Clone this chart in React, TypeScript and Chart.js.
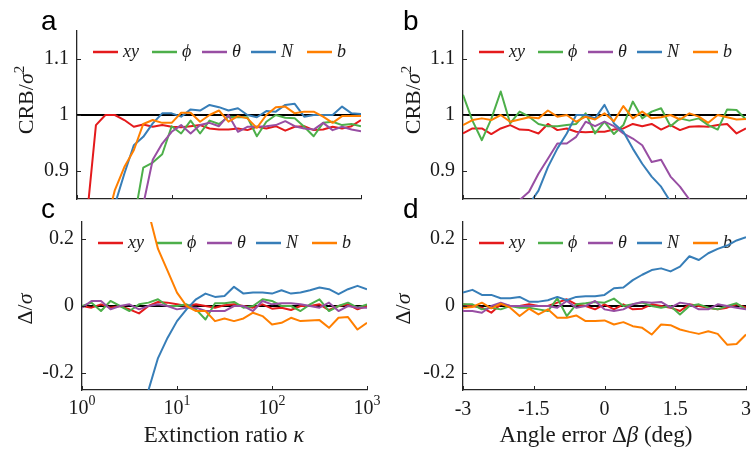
import React, { useEffect, useRef } from 'react';
import { Chart, registerables } from 'chart.js';
Chart.register(...registerables);

const W = 751;
const H = 449;

// ---------- data ----------
const KAPPA = [1, 1.259, 1.585, 1.995, 2.512, 3.162, 3.981, 5.012, 6.31, 7.943, 10, 12.59, 15.85, 19.95, 25.12, 31.62, 39.81, 50.12, 63.1, 79.43, 100, 125.9, 158.5, 199.5, 251.2, 316.2, 398.1, 501.2, 631, 794.3, 1000];
const ANGLE = [-3, -2.8, -2.6, -2.4, -2.2, -2, -1.8, -1.6, -1.4, -1.2, -1, -0.8, -0.6, -0.4, -0.2, 0, 0.2, 0.4, 0.6, 0.8, 1, 1.2, 1.4, 1.6, 1.8, 2, 2.2, 2.4, 2.6, 2.8, 3];

const SERIES_LABELS = ['xy', 'ϕ', 'θ', 'N', 'b'];
const SERIES_COLORS = ['#e41a1c', '#4daf4a', '#984ea3', '#377eb8', '#ff7f00'];

// panel a: CRB/sigma^2 vs extinction ratio
const A_XY = [0.6, 0.81, 0.982, 1.0, 1.0, 0.991, 0.979, 0.983, 0.979, 0.982, 0.979, 0.978, 0.98, 0.982, 0.976, 0.974, 0.974, 0.976, 0.973, 0.979, 0.976, 0.98, 0.972, 0.979, 0.98, 0.973, 0.974, 0.979, 0.976, 0.98, 0.991];
const A_PHI = [0.5, 0.6, 0.65, 0.7, 0.74, 0.78, 0.81, 0.906, 0.915, 0.93, 0.98, 0.967, 0.99, 0.967, 0.99, 0.984, 0.997, 0.996, 0.996, 0.962, 0.988, 1.0, 0.995, 0.994, 0.979, 0.962, 0.986, 0.988, 0.982, 0.984, 0.98];
const A_THETA = [0.5, 0.55, 0.6, 0.65, 0.7, 0.75, 0.8, 0.84, 0.92, 0.949, 0.97, 0.982, 0.967, 0.982, 0.986, 0.98, 1.0, 0.97, 0.979, 0.979, 0.98, 0.982, 0.989, 0.98, 0.976, 0.974, 0.986, 0.973, 0.979, 0.974, 0.971];
const A_N = [0.5, 0.6, 0.7, 0.78, 0.84, 0.895, 0.946, 0.961, 0.985, 1.003, 1.003, 0.997, 1.01, 1.008, 1.018, 1.014, 1.008, 1.012, 1.0, 0.996, 1.007, 1.006, 1.018, 1.02, 0.997, 1.0, 1.0, 1.0, 1.015, 1.003, 1.002];
const A_B = [0.5, 0.6, 0.7, 0.8, 0.866, 0.907, 0.937, 0.984, 0.991, 0.986, 0.986, 1.004, 1.004, 0.988, 1.0, 1.008, 0.988, 0.998, 0.994, 0.977, 1.0, 1.014, 1.015, 1.003, 1.006, 1.006, 0.997, 0.986, 0.998, 0.998, 0.998];

// panel b: CRB/sigma^2 vs angle error
const B_XY = [0.967, 0.976, 0.976, 0.966, 0.976, 0.982, 0.974, 0.973, 0.967, 0.984, 0.973, 0.976, 0.97, 0.969, 0.97, 0.97, 0.974, 0.976, 0.984, 0.98, 0.984, 0.974, 0.982, 0.973, 0.979, 0.98, 0.979, 0.982, 0.984, 0.967, 0.976];
const B_PHI = [1.036, 0.99, 0.955, 0.993, 1.042, 0.985, 1.006, 0.997, 0.984, 0.98, 0.98, 0.982, 0.984, 1.003, 0.967, 0.988, 0.966, 0.982, 1.024, 0.994, 1.006, 1.012, 0.98, 0.994, 0.99, 0.994, 0.982, 0.974, 1.01, 1.009, 0.992];
const B_THETA = [0.7, 0.74, 0.77, 0.8, 0.82, 0.83, 0.848, 0.863, 0.895, 0.922, 0.949, 0.949, 0.961, 0.988, 0.98, 0.988, 0.98, 0.967, 0.958, 0.946, 0.916, 0.92, 0.89, 0.872, 0.849, 0.82, 0.8, 0.78, 0.76, 0.74, 0.72];
const B_N = [0.6, 0.64, 0.68, 0.72, 0.75, 0.78, 0.8, 0.84, 0.865, 0.907, 0.94, 0.967, 1.0, 1.0, 0.994, 1.018, 0.985, 0.97, 0.94, 0.913, 0.89, 0.872, 0.845, 0.8, 0.77, 0.74, 0.72, 0.7, 0.68, 0.66, 0.64];
const B_B = [0.982, 0.991, 0.994, 0.991, 1.0, 0.988, 0.992, 0.996, 0.994, 1.008, 0.997, 1.0, 0.988, 0.997, 0.992, 1.003, 0.989, 1.016, 0.994, 1.006, 0.994, 0.996, 1.0, 0.992, 1.003, 0.997, 0.986, 1.0, 0.996, 0.992, 0.993];

// panel c: Delta/sigma vs extinction ratio
const C_XY = [0, -0.005, 0.005, -0.005, 0.0, -0.01, -0.022, 0, 0.012, 0.01, 0.005, 0, 0.005, 0, -0.005, 0.002, 0.005, 0, -0.005, 0.005, -0.008, -0.005, -0.012, 0, 0, 0.005, -0.012, 0, 0.005, -0.01, 0];
const C_PHI = [0, 0.01, -0.015, 0.015, 0, -0.015, 0.005, 0.01, 0.02, 0.0, 0.0, 0.005, -0.01, -0.04, 0.008, 0.008, 0.012, -0.005, 0.0, 0.02, 0.015, 0.0, 0.0, -0.015, 0.005, 0.02, -0.015, 0.0, 0.01, -0.005, 0.005];
const C_THETA = [-0.005, 0.015, 0.015, -0.01, 0, 0.005, -0.01, 0.0, 0.005, 0.0, -0.01, -0.005, -0.005, -0.015, -0.015, -0.015, 0, 0.0, -0.015, 0.015, 0.005, 0.008, 0.008, 0.005, 0.0, -0.005, 0.01, -0.015, 0.0, -0.005, -0.005];
const C_N = [-1.0, -0.85, -0.72, -0.6, -0.5, -0.42, -0.33, -0.25, -0.155, -0.095, -0.045, -0.01, 0.02, 0.037, 0.027, 0.03, 0.057, 0.037, 0.04, 0.04, 0.037, 0.047, 0.037, 0.04, 0.047, 0.055, 0.05, 0.035, 0.05, 0.06, 0.05];
const C_B = [2.0, 1.6, 1.3, 1.0, 0.8, 0.6, 0.42, 0.28, 0.17, 0.105, 0.04, 0.0, -0.015, -0.015, -0.045, -0.037, -0.045, -0.037, -0.02, -0.03, -0.055, -0.05, -0.035, -0.045, -0.043, -0.042, -0.065, -0.035, -0.033, -0.07, -0.05];

// panel d: Delta/sigma vs angle error
const D_XY = [0.005, 0.0, -0.005, -0.02, 0.005, 0, 0, 0.005, 0.0, 0.0, 0.01, 0.02, 0.005, 0.0, -0.01, 0.005, -0.01, 0.005, -0.01, -0.008, 0.005, 0.0, -0.005, -0.015, 0.005, 0.0, -0.005, -0.01, -0.005, 0.005, -0.005];
const D_PHI = [0.005, 0.005, -0.01, -0.005, -0.01, 0.0, -0.005, -0.005, -0.01, -0.015, 0.023, -0.03, 0.005, 0.008, 0.012, 0.01, 0.022, 0.0, 0.005, 0.01, 0.0, -0.005, 0.0, -0.025, 0.0, 0.005, -0.005, -0.01, 0.0, 0.008, -0.01];
const D_THETA = [-0.015, -0.015, -0.02, 0.0, 0.01, 0.0, 0.0, 0.0, 0.0, 0.0, -0.005, 0.015, -0.005, 0.0, 0.015, -0.01, -0.015, -0.01, 0.005, 0.012, 0.01, 0.012, -0.005, 0.01, 0.005, -0.01, -0.01, 0.005, 0.0, -0.005, -0.01];
const D_N = [0.04, 0.048, 0.033, 0.033, 0.023, 0.023, 0.027, 0.013, 0.013, 0.017, 0.027, 0.017, 0.027, 0.029, 0.029, 0.033, 0.053, 0.055, 0.077, 0.093, 0.107, 0.112, 0.103, 0.117, 0.148, 0.137, 0.157, 0.17, 0.18, 0.195, 0.205];
const D_B = [-0.005, -0.003, 0.01, -0.007, 0.007, -0.005, -0.03, -0.008, -0.025, -0.01, -0.035, -0.035, -0.028, -0.045, -0.045, -0.043, -0.055, -0.048, -0.06, -0.065, -0.085, -0.055, -0.057, -0.07, -0.077, -0.083, -0.075, -0.083, -0.115, -0.113, -0.085];

// ticks
const KAPPA_TICKS = [1, 10, 100, 1000];
const KAPPA_TICK_EXP = ['0', '1', '2', '3'];
const ANGLE_TICKS = [-3, -1.5, 0, 1.5, 3];
const ANGLE_TICK_LABELS = ['-3', '-1.5', '0', '1.5', '3'];
const CRB_TICKS = [0.9, 1, 1.1];
const CRB_TICK_LABELS = ['0.9', '1', '1.1'];
const DELTA_TICKS = [-0.2, 0, 0.2];
const DELTA_TICK_LABELS = ['-0.2', '0', '0.2'];

// ---------- styles ----------
const SERIF = '"Liberation Serif", "Times New Roman", serif';
const R = (s: number) => `${s}px ${SERIF}`;
const I = (s: number) => `italic ${s}px ${SERIF}`;
const TEXT = '#1a1a1a';
const AXIS = '#262626';
const LEG_LINE_X = [16, 75, 125, 174, 230];
const LEG_TEXT_X = [46, 105, 155, 204, 260];
const Y_AXIS_W = 60;
const X_AXIS_H = 40;

type Run = { t: string; f: string; dy?: number };

function drawRuns(ctx: CanvasRenderingContext2D, runs: Run[], x: number, y: number, rotate: boolean) {
  ctx.save();
  let total = 0;
  const ws = runs.map((r) => {
    ctx.font = r.f;
    const w = ctx.measureText(r.t).width;
    total += w;
    return w;
  });
  ctx.translate(x, y);
  if (rotate) ctx.rotate(-Math.PI / 2);
  ctx.textAlign = 'left';
  ctx.textBaseline = 'alphabetic';
  ctx.fillStyle = TEXT;
  let cx = -total / 2;
  runs.forEach((r, i) => {
    ctx.font = r.f;
    ctx.fillText(r.t, cx, r.dy || 0);
    cx += ws[i];
  });
  ctx.restore();
}

type Panel = {
  letter: string;
  letterPos: [number, number];
  area: { l: number; t: number; r: number; b: number };
  log: boolean;
  xs: number[];
  series: number[][];
  yMin: number;
  yMax: number;
  yTicks: number[];
  yLabels: string[];
  ref: number;
  xTicks: number[];
  xLabels: string[] | null;
  logLabels: boolean;
  yTitle: Run[];
  yTitlePos: [number, number];
  xTitle: Run[] | null;
  xTitlePos: [number, number];
};

const CRB_TITLE: Run[] = [
  { t: 'CRB/', f: R(22) },
  { t: 'σ', f: I(22) },
  { t: '2', f: R(15), dy: -9 },
];
const DELTA_TITLE: Run[] = [
  { t: 'Δ/', f: R(22) },
  { t: 'σ', f: I(22) },
];

const PANELS: Panel[] = [
  {
    letter: 'a', letterPos: [41, 30],
    area: { l: 77, t: 31, r: 361, b: 199 },
    log: true, xs: KAPPA, series: [A_XY, A_PHI, A_THETA, A_N, A_B],
    yMin: 0.85, yMax: 1.15, yTicks: CRB_TICKS, yLabels: CRB_TICK_LABELS, ref: 1,
    xTicks: KAPPA_TICKS, xLabels: null, logLabels: false,
    yTitle: CRB_TITLE, yTitlePos: [33, 100], xTitle: null, xTitlePos: [0, 0],
  },
  {
    letter: 'b', letterPos: [403, 30],
    area: { l: 463, t: 31, r: 746, b: 199 },
    log: false, xs: ANGLE, series: [B_XY, B_PHI, B_THETA, B_N, B_B],
    yMin: 0.85, yMax: 1.15, yTicks: CRB_TICKS, yLabels: CRB_TICK_LABELS, ref: 1,
    xTicks: ANGLE_TICKS, xLabels: null, logLabels: false,
    yTitle: CRB_TITLE, yTitlePos: [420, 100], xTitle: null, xTitlePos: [0, 0],
  },
  {
    letter: 'c', letterPos: [41, 218],
    area: { l: 82, t: 222, r: 367, b: 390 },
    log: true, xs: KAPPA, series: [C_XY, C_PHI, C_THETA, C_N, C_B],
    yMin: -0.25, yMax: 0.25, yTicks: DELTA_TICKS, yLabels: DELTA_TICK_LABELS, ref: 0,
    xTicks: KAPPA_TICKS, xLabels: null, logLabels: true,
    yTitle: DELTA_TITLE, yTitlePos: [32, 309],
    xTitle: [{ t: 'Extinction ratio ', f: R(23) }, { t: 'κ', f: I(23) }], xTitlePos: [224, 442],
  },
  {
    letter: 'd', letterPos: [403, 218],
    area: { l: 463, t: 222, r: 746, b: 390 },
    log: false, xs: ANGLE, series: [D_XY, D_PHI, D_THETA, D_N, D_B],
    yMin: -0.25, yMax: 0.25, yTicks: DELTA_TICKS, yLabels: DELTA_TICK_LABELS, ref: 0,
    xTicks: ANGLE_TICKS, xLabels: ANGLE_TICK_LABELS, logLabels: false,
    yTitle: DELTA_TITLE, yTitlePos: [410, 309],
    xTitle: [{ t: 'Angle error Δ', f: R(23) }, { t: 'β', f: I(23) }, { t: ' (deg)', f: R(23) }], xTitlePos: [596, 442],
  },
];

function makeDecor(p: Panel) {
  return {
    id: 'decor' + p.letter,
    beforeDatasetsDraw(chart: any) {
      const ctx: CanvasRenderingContext2D = chart.ctx;
      const a = chart.chartArea;
      const ly = a.top + 21;
      ctx.save();
      SERIES_LABELS.forEach((lab, i) => {
        ctx.strokeStyle = SERIES_COLORS[i];
        ctx.lineWidth = 2.5;
        ctx.beginPath();
        ctx.moveTo(a.left + LEG_LINE_X[i], ly);
        ctx.lineTo(a.left + LEG_LINE_X[i] + 25, ly);
        ctx.stroke();
        ctx.fillStyle = TEXT;
        ctx.font = I(18);
        ctx.textAlign = 'left';
        ctx.textBaseline = 'alphabetic';
        ctx.fillText(lab, a.left + LEG_TEXT_X[i], ly + 5);
      });
      ctx.restore();
    },
    afterDraw(chart: any) {
      const ctx: CanvasRenderingContext2D = chart.ctx;
      const a = chart.chartArea;
      const xs = chart.scales.x;
      const ys = chart.scales.y;
      ctx.save();
      ctx.strokeStyle = AXIS;
      ctx.lineWidth = 1;
      ctx.beginPath();
      p.xTicks.forEach((v) => {
        const px = Math.round(xs.getPixelForValue(v)) + 0.5;
        ctx.moveTo(px, a.bottom);
        ctx.lineTo(px, a.bottom - 4);
      });
      p.yTicks.forEach((v) => {
        const py = Math.round(ys.getPixelForValue(v)) + 0.5;
        ctx.moveTo(a.left, py);
        ctx.lineTo(a.left + 4, py);
      });
      ctx.stroke();

      if (p.logLabels) {
        ctx.fillStyle = TEXT;
        ctx.textBaseline = 'alphabetic';
        ctx.textAlign = 'left';
        p.xTicks.forEach((v, i) => {
          const px = xs.getPixelForValue(v);
          ctx.font = R(20);
          const w1 = ctx.measureText('10').width;
          ctx.font = R(14);
          const w2 = ctx.measureText(KAPPA_TICK_EXP[i]).width;
          const x0 = px - (w1 + w2) / 2;
          ctx.font = R(20);
          ctx.fillText('10', x0, 414);
          ctx.font = R(14);
          ctx.fillText(KAPPA_TICK_EXP[i], x0 + w1, 405);
        });
      }

      ctx.fillStyle = '#000';
      ctx.font = '28px "Liberation Sans", Arial, sans-serif';
      ctx.textAlign = 'left';
      ctx.textBaseline = 'alphabetic';
      ctx.fillText(p.letter, p.letterPos[0], p.letterPos[1]);
      ctx.restore();

      drawRuns(ctx, p.yTitle, p.yTitlePos[0], p.yTitlePos[1], true);
      if (p.xTitle) drawRuns(ctx, p.xTitle, p.xTitlePos[0], p.xTitlePos[1], false);
    },
  };
}

function PanelChart({ p }: { p: Panel }) {
  const ref = useRef<HTMLCanvasElement | null>(null);
  useEffect(() => {
    if (!ref.current) return;
    const xMin = p.xs[0];
    const xMax = p.xs[p.xs.length - 1];
    const datasets: any[] = [
      {
        label: 'ref',
        data: [{ x: xMin, y: p.ref }, { x: xMax, y: p.ref }],
        borderColor: '#000',
        borderWidth: 2.2,
        pointRadius: 0,
        tension: 0,
        order: 10,
      },
    ];
    p.series.forEach((arr, i) => {
      datasets.push({
        label: SERIES_LABELS[i],
        data: p.xs.map((x, j) => ({ x, y: arr[j] })),
        borderColor: SERIES_COLORS[i],
        borderWidth: 2,
        pointRadius: 0,
        tension: 0,
        borderJoinStyle: 'round',
        order: 5 - i,
      });
    });
    const chart = new Chart(ref.current, {
      type: 'line',
      data: { datasets },
      options: {
        animation: false,
        responsive: false,
        maintainAspectRatio: false,
        events: [],
        layout: {
          padding: {
            left: p.area.l - Y_AXIS_W,
            top: p.area.t,
            right: W - p.area.r,
            bottom: H - p.area.b - X_AXIS_H,
          },
        },
        plugins: { legend: { display: false }, tooltip: { enabled: false } },
        scales: {
          x: {
            type: p.log ? 'logarithmic' : 'linear',
            min: xMin,
            max: xMax,
            position: 'bottom',
            grid: { display: false, drawTicks: false },
            border: { display: true, color: AXIS, width: 1.3 },
            ticks: {
              display: !!p.xLabels,
              font: { family: SERIF, size: 20 },
              color: TEXT,
              padding: 8,
              maxRotation: 0,
              autoSkip: false,
              callback: (_v: any, i: number) => (p.xLabels ? p.xLabels[i] : ''),
            },
            afterBuildTicks: (s: any) => {
              s.ticks = p.xTicks.map((v) => ({ value: v }));
            },
            afterFit: (s: any) => {
              s.height = X_AXIS_H;
              s.paddingLeft = 0;
              s.paddingRight = 0;
            },
          },
          y: {
            type: 'linear',
            min: p.yMin,
            max: p.yMax,
            position: 'left',
            grid: { display: false, drawTicks: false },
            border: { display: true, color: AXIS, width: 1.3 },
            ticks: {
              font: { family: SERIF, size: 20 },
              color: TEXT,
              padding: 8,
              autoSkip: false,
              callback: (_v: any, i: number) => p.yLabels[i],
            },
            afterBuildTicks: (s: any) => {
              s.ticks = p.yTicks.map((v) => ({ value: v }));
            },
            afterFit: (s: any) => {
              s.width = Y_AXIS_W;
              s.paddingTop = 0;
              s.paddingBottom = 0;
            },
          },
        },
      } as any,
      plugins: [makeDecor(p)],
    });
    return () => chart.destroy();
  }, [p]);
  return (
    <canvas
      ref={ref}
      width={W}
      height={H}
      style={{ position: 'absolute', left: 0, top: 0, width: W, height: H }}
    />
  );
}

export default function App() {
  return (
    <div style={{ position: 'absolute', left: 0, top: 0, width: W, height: H, background: '#fff' }}>
      {PANELS.map((p) => (
        <PanelChart key={p.letter} p={p} />
      ))}
    </div>
  );
}
